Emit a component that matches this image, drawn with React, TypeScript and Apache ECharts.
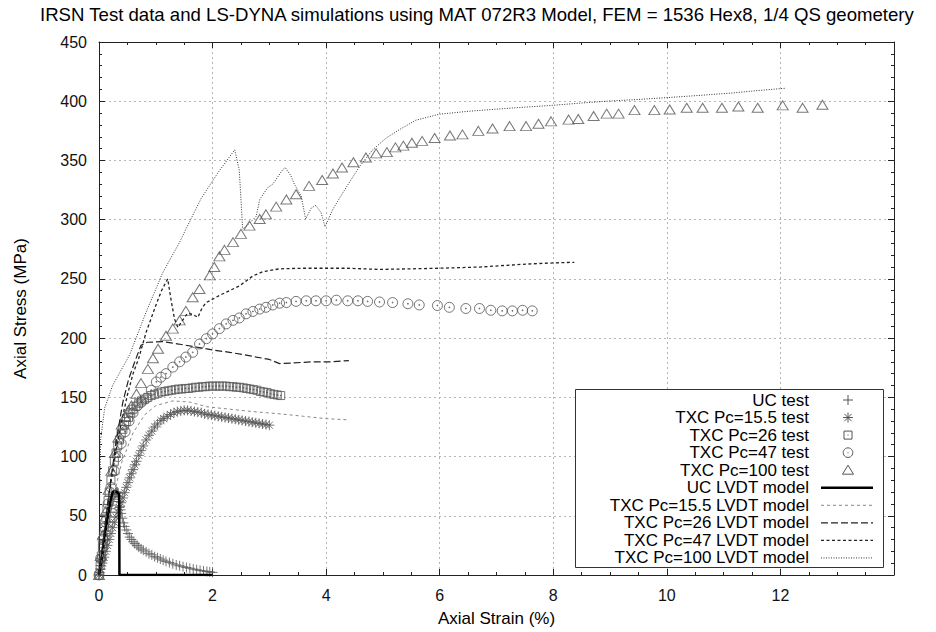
import React, { useEffect, useRef } from "react";
import * as echarts from "echarts";

const TITLE =
  "IRSN Test data and LS-DYNA simulations using MAT 072R3 Model, FEM = 1536 Hex8, 1/4 QS geometery";
const X_NAME = "Axial Strain (%)";
const Y_NAME = "Axial Stress (MPa)";
const X_TICK_LABELS = [0, 2, 4, 6, 8, 10, 12];
const X_MIN = 0;
const X_MAX = 14;
const Y_MIN = 0;
const Y_MAX = 450;

const SERIES_NAMES = [
  "UC test",
  "TXC Pc=15.5 test",
  "TXC Pc=26 test",
  "TXC Pc=47 test",
  "TXC Pc=100 test",
  "UC LVDT model",
  "TXC Pc=15.5 LVDT model",
  "TXC Pc=26 LVDT model",
  "TXC Pc=47 LVDT model",
  "TXC Pc=100 LVDT model",
];

type P = [number, number];

const ucTest: P[] = [
  [0, 0], [0.01, 2], [0.02, 5], [0.03, 8], [0.04, 11], [0.05, 14], [0.06, 17], [0.07, 20],
  [0.08, 23], [0.09, 26], [0.1, 29], [0.115, 33], [0.13, 37], [0.145, 41], [0.16, 45],
  [0.175, 49], [0.19, 53], [0.205, 56], [0.22, 59], [0.235, 62], [0.25, 64], [0.265, 66],
  [0.28, 68], [0.295, 69], [0.31, 70], [0.325, 70], [0.34, 69], [0.35, 66], [0.36, 62],
  [0.37, 58], [0.38, 55], [0.39, 52], [0.41, 48], [0.43, 44], [0.45, 41], [0.48, 38],
  [0.51, 35], [0.54, 32], [0.57, 30], [0.6, 28], [0.63, 26.5], [0.67, 25], [0.7, 23.5],
  [0.74, 22], [0.78, 21], [0.83, 19.5], [0.88, 18], [0.93, 17], [0.98, 15.5], [1.03, 14.5],
  [1.08, 13.5], [1.13, 12.5], [1.18, 11.5], [1.24, 10.5], [1.3, 9.5], [1.36, 8.5],
  [1.42, 7.8], [1.48, 7], [1.54, 6.3], [1.6, 5.7], [1.66, 5], [1.72, 4.4], [1.78, 3.9],
  [1.84, 3.4], [1.9, 3], [1.95, 2.6], [2.0, 2.2],
];

const txc15Test: P[] = [
  [0, 0], [0.03, 5], [0.06, 10], [0.09, 15], [0.12, 20], [0.15, 25], [0.18, 30], [0.21, 35],
  [0.24, 40], [0.27, 44.5], [0.3, 49], [0.33, 53], [0.36, 57], [0.39, 61], [0.42, 65],
  [0.45, 69.5], [0.48, 74], [0.51, 78], [0.54, 82], [0.57, 85.5], [0.6, 89], [0.63, 93],
  [0.66, 96], [0.7, 101], [0.74, 105], [0.78, 109], [0.83, 114], [0.88, 118], [0.93, 121.5],
  [0.98, 125], [1.03, 127.5], [1.09, 130.5], [1.14, 132], [1.2, 134], [1.26, 135.5],
  [1.32, 137], [1.38, 138], [1.44, 138.5], [1.5, 139], [1.56, 139], [1.62, 138.5],
  [1.68, 138], [1.74, 137.5], [1.8, 137], [1.86, 136], [1.92, 135.5], [1.98, 135],
  [2.04, 134.5], [2.1, 134], [2.16, 133.5], [2.22, 133], [2.28, 132.5], [2.34, 132],
  [2.4, 131.5], [2.46, 131], [2.52, 130.5], [2.58, 130], [2.64, 129.5], [2.7, 129],
  [2.76, 128.5], [2.82, 128], [2.88, 127.5], [2.94, 127], [3.0, 126.5],
];

const txc26Test: P[] = [
  [0, 0], [0.02, 8], [0.04, 16], [0.06, 24], [0.08, 32], [0.1, 40], [0.12, 48], [0.14, 56],
  [0.16, 63], [0.18, 70], [0.21, 80], [0.24, 88], [0.27, 96], [0.3, 103], [0.33, 109],
  [0.36, 114], [0.39, 119], [0.42, 123], [0.45, 126.5], [0.48, 129.5], [0.52, 133],
  [0.56, 137], [0.6, 140], [0.65, 142.5], [0.7, 145], [0.75, 147], [0.8, 148.5], [0.86, 150],
  [0.92, 151.5], [0.98, 152.5], [1.04, 153.5], [1.1, 154.5], [1.16, 155], [1.22, 155.5],
  [1.28, 156], [1.34, 156.5], [1.4, 157], [1.46, 157], [1.52, 157.5], [1.58, 157.5],
  [1.64, 158], [1.7, 158.5], [1.76, 158.5], [1.82, 159], [1.88, 159], [1.94, 159.5],
  [2.0, 159.5], [2.06, 159.5], [2.12, 159.5], [2.18, 159.5], [2.24, 159.5], [2.3, 159],
  [2.36, 159], [2.42, 158.5], [2.48, 158.5], [2.54, 158], [2.6, 157.5], [2.66, 157],
  [2.72, 156.5], [2.78, 156], [2.84, 155], [2.9, 154.5], [2.96, 154], [3.02, 153],
  [3.08, 152.5], [3.14, 152], [3.2, 151.5],
];

const txc47Test: P[] = [
  [0, 0], [0.03, 14], [0.07, 30], [0.11, 45], [0.16, 60], [0.21, 74], [0.27, 88], [0.33, 100],
  [0.39, 111], [0.46, 121], [0.53, 130], [0.6, 137], [0.68, 143], [0.75, 146], [0.83, 149],
  [0.92, 156], [1.01, 163], [1.09, 167], [1.18, 170], [1.3, 175.5], [1.42, 180], [1.53, 184],
  [1.65, 188], [1.77, 195], [1.89, 199.5], [2.0, 203.5], [2.12, 208], [2.24, 212],
  [2.36, 215], [2.47, 217], [2.59, 220.5], [2.71, 222.5], [2.83, 224.5], [2.94, 226],
  [3.06, 228], [3.18, 229.5], [3.3, 230], [3.47, 231], [3.65, 231.5], [3.82, 231.5],
  [4.0, 231.5], [4.18, 232], [4.38, 231.5], [4.56, 231.5], [4.73, 231], [4.94, 230.5],
  [5.17, 230], [5.44, 229], [5.64, 228], [5.96, 227.5], [6.17, 226], [6.46, 225], [6.7, 225],
  [6.9, 223.5], [7.1, 223], [7.28, 223], [7.46, 223.5], [7.63, 223],
];

const txc100Test: P[] = [
  [0, 0], [0.03, 16], [0.07, 34], [0.12, 54], [0.17, 72], [0.22, 88], [0.28, 103], [0.34, 116],
  [0.4, 127], [0.46, 134], [0.52, 139], [0.57, 143], [0.66, 153], [0.74, 162], [0.86, 174],
  [0.95, 183], [1.04, 191], [1.18, 202], [1.3, 208], [1.42, 215], [1.53, 223], [1.65, 234.5],
  [1.77, 241.5], [1.95, 253], [2.03, 260], [2.12, 269], [2.21, 274.5], [2.36, 281], [2.5, 288],
  [2.65, 295], [2.83, 300.5], [2.94, 304.5], [3.12, 311], [3.3, 317], [3.47, 321.5],
  [3.7, 328.5], [3.93, 333.5], [4.12, 339], [4.28, 344], [4.48, 348.5], [4.7, 352.5],
  [4.88, 356], [5.07, 357], [5.22, 361], [5.36, 362.5], [5.51, 365], [5.69, 366.5],
  [5.91, 369], [6.18, 371], [6.4, 372], [6.68, 375], [6.93, 377], [7.23, 379], [7.52, 379],
  [7.74, 381], [7.96, 383], [8.27, 384.5], [8.44, 385], [8.71, 387.5], [8.94, 389.5],
  [9.15, 389.5], [9.43, 392.5], [9.78, 392.5], [10.05, 393], [10.35, 394.5], [10.63, 394.5],
  [10.97, 394.5], [11.26, 395.5], [11.6, 394.5], [12.04, 396.5], [12.39, 394.5], [12.74, 397],
];

const ucModel: P[] = [
  [0, 0], [0.05, 15], [0.1, 32], [0.15, 48], [0.2, 62], [0.24, 70], [0.28, 71], [0.32, 70],
  [0.355, 68], [0.36, 0], [1.0, 0], [2.0, 0],
];

const txc15Model: P[] = [
  [0, 0], [0.2, 55], [0.4, 95], [0.6, 120], [0.8, 135], [1.0, 143], [1.3, 147], [1.6, 146],
  [1.9, 142], [2.3, 140], [2.7, 138], [3.2, 136], [3.6, 134], [4.0, 132], [4.4, 131],
];

const txc26Model: P[] = [
  [0, 0], [0.1, 40], [0.2, 78], [0.3, 112], [0.42, 146], [0.52, 165], [0.63, 180], [0.74, 194],
  [0.85, 196.5], [1.12, 197], [1.4, 195], [1.71, 192.5], [2.0, 190], [2.3, 188], [2.55, 186],
  [2.77, 184], [3.0, 182], [3.18, 178.5], [3.4, 179], [3.76, 180], [4.06, 180], [4.4, 181],
];

const txc47Model: P[] = [
  [0, 0], [0.1, 38], [0.2, 75], [0.3, 105], [0.4, 130], [0.5, 152], [0.6, 170], [0.7, 183],
  [0.83, 205], [1.0, 227.5], [1.1, 240], [1.21, 250], [1.27, 232], [1.33, 216], [1.39, 209],
  [1.47, 215], [1.56, 221], [1.65, 220], [1.74, 217.5], [1.82, 226], [1.89, 230], [2.12, 236],
  [2.47, 244], [2.71, 252.5], [2.88, 256], [3.0, 257], [3.18, 258.5], [3.59, 259], [4.06, 259],
  [4.35, 259], [4.94, 258], [5.5, 258.5], [6.0, 259], [6.7, 260], [7.2, 261.5], [7.52, 262.5],
  [8.0, 263.5], [8.37, 264],
];

const txc100Model: P[] = [
  [0, 0], [0.01, 60], [0.03, 115], [0.1, 141], [0.24, 160], [0.54, 186], [0.83, 222],
  [1.12, 255], [1.42, 281], [1.53, 292], [1.8, 318], [2.1, 340], [2.39, 359], [2.47, 342],
  [2.53, 292], [2.65, 297], [2.77, 303], [2.83, 317], [2.97, 327], [3.06, 330], [3.24, 342.5],
  [3.28, 344], [3.38, 337], [3.44, 330], [3.56, 320], [3.64, 300.5], [3.74, 310], [3.82, 312],
  [3.91, 306], [3.98, 294], [4.12, 309], [4.35, 327], [4.59, 345], [4.82, 359], [5.06, 369],
  [5.29, 376], [5.58, 384], [5.99, 389], [6.5, 391.5], [7.05, 393.5], [7.5, 395], [7.98, 396.5],
  [8.5, 398.5], [8.93, 400], [9.5, 401.5], [9.99, 403], [10.6, 405], [11.16, 407], [11.6, 409],
  [12.1, 411],
];

const FONT = "'Liberation Sans', Arial, Helvetica, sans-serif";
const MARK = "#555";

const PLUS = "path://M0,-5L0,5M-5,0L5,0";
const STAR = "path://M0,-5L0,5M-5,0L5,0M-3.6,-3.6L3.6,3.6M-3.6,3.6L3.6,-3.6";
const SQUARE = "path://M-4,-4L4,-4L4,4L-4,4Z M-0.4,-0.4L0.4,-0.4L0.4,0.4L-0.4,0.4Z";
const CIRCLE = "path://M-5,0A5,5 0 1,0 5,0A5,5 0 1,0 -5,0Z M-0.4,-0.4L0.4,-0.4L0.4,0.4L-0.4,0.4Z";

const markerStyle = { color: "rgba(0,0,0,0)", borderColor: MARK, borderWidth: 1 };

const LEG = {
  left: 575.5, top: 389.5, width: 308, height: 178,
  textX: 809, symX: 848, lineX1: 821, lineX2: 873, y0: 400, dy: 17.55,
};

function legendGraphics() {
  const els: any[] = [];
  els.push({
    type: "rect", z: 100,
    shape: { x: LEG.left, y: LEG.top, width: LEG.width, height: LEG.height },
    style: { fill: "#fff", stroke: "#333", lineWidth: 1 },
  });
  SERIES_NAMES.forEach((name, i) => {
    const y = LEG.y0 + i * LEG.dy;
    els.push({
      type: "text", z: 101, x: LEG.textX, y,
      style: { text: name, align: "right", verticalAlign: "middle", fontSize: 17, fontFamily: FONT, fill: "#000" },
    });
    const cx = LEG.symX;
    const st = { stroke: MARK, lineWidth: 1, fill: "none" };
    const ln = (x1: number, y1: number, x2: number, y2: number, s: any = st) =>
      els.push({ type: "line", z: 101, shape: { x1, y1, x2, y2 }, style: s });
    if (i === 0) {
      ln(cx - 5, y, cx + 5, y); ln(cx, y - 5, cx, y + 5);
    } else if (i === 1) {
      ln(cx - 5, y, cx + 5, y); ln(cx, y - 5, cx, y + 5);
      ln(cx - 3.6, y - 3.6, cx + 3.6, y + 3.6); ln(cx - 3.6, y + 3.6, cx + 3.6, y - 3.6);
    } else if (i === 2) {
      els.push({ type: "rect", z: 101, shape: { x: cx - 4, y: y - 4, width: 8, height: 8 }, style: st });
      els.push({ type: "rect", z: 101, shape: { x: cx - 0.5, y: y - 0.5, width: 1, height: 1 }, style: { fill: MARK } });
    } else if (i === 3) {
      els.push({ type: "circle", z: 101, shape: { cx, cy: y, r: 4.8 }, style: st });
      els.push({ type: "rect", z: 101, shape: { x: cx - 0.5, y: y - 0.5, width: 1, height: 1 }, style: { fill: MARK } });
    } else if (i === 4) {
      els.push({ type: "polygon", z: 101, shape: { points: [[cx, y - 5], [cx + 5.5, y + 4], [cx - 5.5, y + 4]] }, style: st });
    } else {
      const styles: any[] = [
        { stroke: "#000", lineWidth: 2.5 },
        { stroke: "#888", lineWidth: 1, lineDash: [3, 3] },
        { stroke: "#222", lineWidth: 1.2, lineDash: [7, 3] },
        { stroke: "#222", lineWidth: 1.3, lineDash: [3, 2.5] },
        { stroke: "#333", lineWidth: 1, lineDash: [1, 1.5] },
      ];
      ln(LEG.lineX1, y, LEG.lineX2, y, { ...styles[i - 5], fill: "none" });
    }
  });
  return els;
}

export default function App() {
  const ref = useRef<HTMLDivElement>(null);
  useEffect(() => {
    if (!ref.current) return;
    const chart = echarts.init(ref.current, null, { renderer: "svg" });
    const axisCol = "#222";
    const gridLine = { show: true, lineStyle: { color: "#b5b5b5", type: [2, 3] as any, width: 1 } };
    const baseX = {
      type: "value" as const, min: X_MIN, max: X_MAX, interval: 2,
      axisLine: { show: true, onZero: false, lineStyle: { color: axisCol, width: 1 } },
      axisTick: { show: true, inside: true, length: 6, lineStyle: { color: axisCol } },
      minorTick: { show: true, splitNumber: 4, length: 3, lineStyle: { color: axisCol } },
    };
    const baseY = {
      type: "value" as const, min: Y_MIN, max: Y_MAX, interval: 50,
      axisLine: { show: true, onZero: false, lineStyle: { color: axisCol, width: 1 } },
      axisTick: { show: true, inside: true, length: 6, lineStyle: { color: axisCol } },
      minorTick: { show: true, splitNumber: 5, length: 3, lineStyle: { color: axisCol } },
    };
    const scatter = (name: string, data: P[], symbol: string, size: any) => ({
      type: "scatter", name, data, symbol, symbolSize: size, itemStyle: markerStyle, z: 2,
    });
    const line = (name: string, data: P[], ls: any) => ({
      type: "line", name, data, showSymbol: false, symbol: "none", lineStyle: ls, z: 3,
    });
    chart.setOption({
      animation: false,
      backgroundColor: "#fff",
      title: {
        text: TITLE, left: 35, top: 0,
        textStyle: { fontSize: 18.6, fontWeight: "normal", color: "#000", fontFamily: FONT },
      },
      grid: { left: 99, right: 42, top: 42, bottom: 55, containLabel: false },
      xAxis: [
        {
          ...baseX, position: "bottom",
          name: X_NAME, nameLocation: "middle", nameGap: 35,
          nameTextStyle: { fontSize: 17, color: "#000", fontFamily: FONT },
          axisLabel: {
            fontSize: 16, color: "#111", fontFamily: FONT, margin: 12,
            formatter: (v: number) => (X_TICK_LABELS.includes(v) ? String(v) : ""),
          },
          splitLine: gridLine,
        },
        { ...baseX, position: "top", axisLabel: { show: false }, splitLine: { show: false } },
      ],
      yAxis: [
        {
          ...baseY, position: "left",
          name: Y_NAME, nameLocation: "middle", nameGap: 70,
          nameTextStyle: { fontSize: 17, color: "#000", fontFamily: FONT },
          axisLabel: { fontSize: 16, color: "#111", fontFamily: FONT, margin: 12 },
          splitLine: gridLine,
        },
        { ...baseY, position: "right", axisLabel: { show: false }, splitLine: { show: false } },
      ],
      series: [
        scatter(SERIES_NAMES[0], ucTest, PLUS, 10),
        scatter(SERIES_NAMES[1], txc15Test, STAR, 10),
        scatter(SERIES_NAMES[2], txc26Test, SQUARE, 8),
        scatter(SERIES_NAMES[3], txc47Test, CIRCLE, 10),
        scatter(SERIES_NAMES[4], txc100Test, "triangle", [11, 9]),
        line(SERIES_NAMES[5], ucModel, { color: "#000", width: 2.5, type: "solid" }),
        line(SERIES_NAMES[6], txc15Model, { color: "#888", width: 1, type: [3, 3] }),
        line(SERIES_NAMES[7], txc26Model, { color: "#222", width: 1.2, type: [7, 3] }),
        line(SERIES_NAMES[8], txc47Model, { color: "#222", width: 1.3, type: [3, 2.5] }),
        line(SERIES_NAMES[9], txc100Model, { color: "#333", width: 1, type: [1, 1.5] }),
      ],
      graphic: legendGraphics(),
    });
    return () => chart.dispose();
  }, []);
  return (
    <div
      ref={ref}
      style={{ position: "fixed", left: 0, top: 0, width: 936, height: 632, background: "#fff" }}
    />
  );
}
